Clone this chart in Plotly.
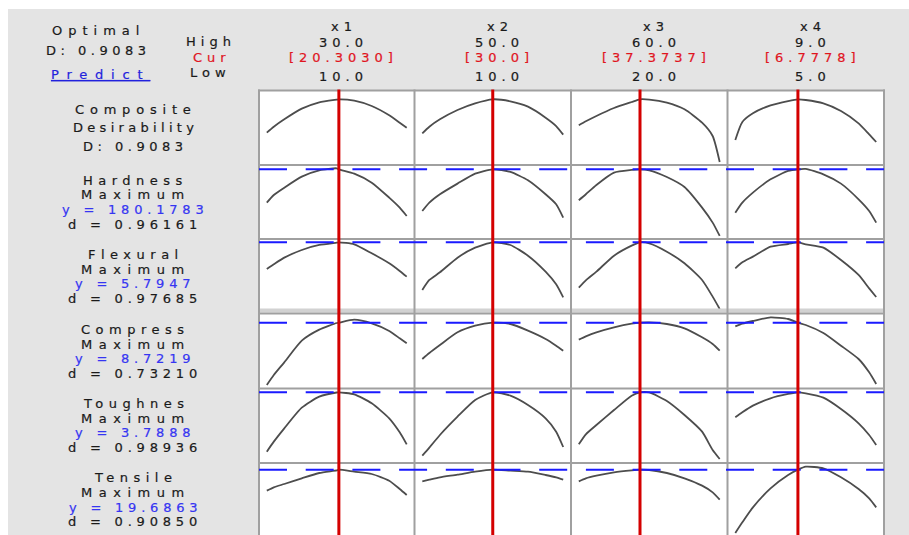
import plotly.graph_objects as go

# ---------------- factor settings ----------------
factors = ["x1", "x2", "x3", "x4"]
high_text = ["30.0", "50.0", "60.0", "9.0"]
cur_text = ["[20.3030]", "[30.0]", "[37.3737]", "[6.7778]"]
low_text = ["10.0", "10.0", "20.0", "5.0"]
x_low = [10, 10, 20, 5]
x_high = [30, 50, 60, 9]
x_cur = [20.3030, 30.0, 37.3737, 6.7778]

# factor values at which each response trace is evaluated
x1_grid = [10, 11, 12.5, 15, 17.5, 20, 20.303, 22.5, 25, 27.5, 29, 30]
x2_grid = [10, 12, 15, 20, 25, 30, 35, 40, 45, 48, 50]
x3_grid = [20, 22, 25, 30, 35, 37.3737, 40, 45, 50, 55, 58, 60]
x4_grid = [5, 5.2, 5.5, 6, 6.5, 6.7778, 7, 7.5, 8, 8.5, 8.8, 9]

# ---------------- responses ----------------
responses = ["Hardness", "Flexural", "Compress", "Toughnes", "Tensile"]
goals = ["Maximum", "Maximum", "Maximum", "Maximum", "Maximum"]
y_pred = [180.1783, 5.7947, 8.7219, 3.7888, 19.6863]
y_pred_text = ["180.1783", "5.7947", "8.7219", "3.7888", "19.6863"]
d_text = ["0.96161", "0.97685", "0.73210", "0.98936", "0.90850"]
composite_D = 0.9083

composite_x1 = [0.447, 0.530, 0.632, 0.779, 0.867, 0.904, 0.9083, 0.890, 0.816, 0.687, 0.585, 0.516]
composite_x2 = [0.438, 0.530, 0.632, 0.761, 0.853, 0.9083, 0.881, 0.807, 0.655, 0.539, 0.420]
composite_x3 = [0.549, 0.604, 0.678, 0.788, 0.871, 0.9083, 0.904, 0.862, 0.770, 0.585, 0.401, 0.041]
composite_x4 = [0.346, 0.595, 0.715, 0.825, 0.885, 0.9083, 0.899, 0.853, 0.747, 0.576, 0.424, 0.318]

hardness_x1 = [160.2, 164.8, 169.2, 175.8, 179.6, 180.8, 180.1783, 177.6, 172.2, 163.2, 157.2, 152.2]
hardness_x2 = [155.2, 160.2, 165.2, 171.6, 177.6, 180.1783, 178.6, 173.6, 165.2, 159.2, 151.2]
hardness_x3 = [161.6, 165.2, 170.8, 178.2, 179.8, 180.1783, 179.6, 175.6, 169.6, 157.2, 148.2, 140.2]
hardness_x4 = [154.2, 160.2, 166.2, 174.2, 179.2, 180.1783, 180.4, 177.2, 171.6, 162.2, 155.2, 148.2]

flexural_x1 = [4.995, 5.135, 5.335, 5.565, 5.715, 5.785, 5.7947, 5.735, 5.465, 5.165, 4.935, 4.765]
flexural_x2 = [4.365, 4.665, 4.895, 5.335, 5.635, 5.7947, 5.715, 5.395, 4.915, 4.535, 4.145]
flexural_x3 = [4.435, 4.655, 4.915, 5.395, 5.695, 5.7947, 5.765, 5.515, 5.165, 4.665, 4.165, 3.795]
flexural_x4 = [5.015, 5.195, 5.365, 5.665, 5.745, 5.7947, 5.735, 5.635, 5.265, 4.815, 4.415, 4.155]

compress_x1 = [4.982, 5.582, 6.342, 7.642, 8.302, 8.702, 8.7219, 8.902, 8.682, 8.222, 7.782, 7.482]
compress_x2 = [6.542, 6.902, 7.382, 8.142, 8.542, 8.7219, 8.642, 8.242, 7.742, 7.342, 7.042]
compress_x3 = [7.702, 7.902, 8.142, 8.442, 8.662, 8.7219, 8.742, 8.642, 8.382, 7.842, 7.442, 7.042]
compress_x4 = [8.502, 8.662, 8.822, 9.042, 8.942, 8.7219, 8.582, 8.102, 7.342, 6.542, 5.742, 5.042]

toughness_x1 = [2.009, 2.309, 2.709, 3.329, 3.659, 3.784, 3.7888, 3.729, 3.459, 3.009, 2.589, 2.229]
toughness_x2 = [1.889, 2.129, 2.509, 3.059, 3.559, 3.7888, 3.689, 3.409, 3.009, 2.609, 2.149]
toughness_x3 = [2.229, 2.529, 2.809, 3.259, 3.689, 3.7888, 3.784, 3.529, 3.109, 2.609, 2.059, 1.789]
toughness_x4 = [3.039, 3.189, 3.389, 3.609, 3.739, 3.7888, 3.759, 3.629, 3.289, 2.859, 2.509, 2.209]

tensile_x1 = [16.536, 17.036, 17.536, 18.386, 19.186, 19.586, 19.6863, 19.386, 19.036, 18.036, 16.786, 15.886]
tensile_x2 = [17.936, 18.186, 18.536, 18.936, 19.386, 19.6863, 19.536, 19.386, 18.886, 18.536, 18.186]
tensile_x3 = [17.936, 18.386, 18.786, 19.286, 19.586, 19.6863, 19.636, 19.186, 18.386, 17.286, 16.286, 15.186]
tensile_x4 = [10.186, 11.786, 14.036, 16.886, 18.886, 19.6863, 20.136, 19.886, 18.536, 16.786, 15.386, 14.036]

grids = [x1_grid, x2_grid, x3_grid, x4_grid]
curves = [
    [composite_x1, composite_x2, composite_x3, composite_x4],
    [hardness_x1, hardness_x2, hardness_x3, hardness_x4],
    [flexural_x1, flexural_x2, flexural_x3, flexural_x4],
    [compress_x1, compress_x2, compress_x3, compress_x4],
    [toughness_x1, toughness_x2, toughness_x3, toughness_x4],
    [tensile_x1, tensile_x2, tensile_x3, tensile_x4],
]

# ---------------- layout geometry (pixels) ----------------
W, H = 909, 535
col_edges = [259, 414.5, 571, 727.5, 884]
row_edges = [90.5, 165, 239, 313.5, 388.5, 463, 535]
y_ranges = [
    [0.0, 1.0303],
    [138.3783, 182.7783],
    [3.6597, 5.8947],
    [4.7719, 9.2719],
    [1.6688, 3.9038],
    [9.8863, 20.6863],
]
pad_px = 7.8

PANEL = "#e4e4e4"
BORDER = "#a0a0a0"
CURVE = "#4d4d4d"
RED = "#d40000"
BLUE = "#1a1aff"
TXT = "#1a1a1a"
TXT_RED = "#e0141e"
TXT_BLUE = "#3535f2"
TXT_LINK = "#2222dd"
FONT = "DejaVu Sans"
FS = 13


def px_x(v):
    return v / W


def px_y(v):
    return 1 - v / H


def suffix(idx):
    return "" if idx == 1 else str(idx)


fig = go.Figure()
layout = {}

for r in range(6):
    for c in range(4):
        idx = r * 4 + c + 1
        s = suffix(idx)
        L, R = col_edges[c], col_edges[c + 1]
        upp = (x_high[c] - x_low[c]) / (R - L - 2 * pad_px)
        layout["xaxis" + s] = dict(
            domain=[px_x(L), px_x(R)],
            range=[x_low[c] - pad_px * upp, x_high[c] + pad_px * upp],
            visible=False, fixedrange=True, anchor="y" + s,
        )
        layout["yaxis" + s] = dict(
            domain=[px_y(row_edges[r + 1]), px_y(row_edges[r])],
            range=y_ranges[r],
            visible=False, fixedrange=True, anchor="x" + s,
        )
        fig.add_trace(go.Scatter(
            x=grids[c], y=curves[r][c], mode="lines",
            line=dict(color=CURVE, width=1.8, shape="spline", smoothing=0.6),
            xaxis="x" + s, yaxis="y" + s,
            hoverinfo="skip", showlegend=False,
        ))

shapes = []
# white page margin around the panel
shapes.append(dict(type="rect", xref="paper", yref="paper", layer="below",
                   x0=0, x1=1, y0=px_y(9), y1=1, fillcolor="white", line=dict(width=0)))
shapes.append(dict(type="rect", xref="paper", yref="paper", layer="below",
                   x0=0, x1=px_x(8), y0=0, y1=1, fillcolor="white", line=dict(width=0)))
# light strip between the flexural and compress rows
shapes.append(dict(type="rect", xref="paper", yref="paper", layer="above",
                   x0=px_x(col_edges[0]), x1=px_x(col_edges[-1]),
                   y0=px_y(312.5), y1=px_y(308.5), fillcolor="#d2d2d2", line=dict(width=0)))
# cell borders
for xe in col_edges:
    shapes.append(dict(type="line", xref="paper", yref="paper", layer="above",
                       x0=px_x(xe), x1=px_x(xe), y0=0, y1=px_y(row_edges[0] - 1),
                       line=dict(color=BORDER, width=2)))
for ye in row_edges[:-1]:
    shapes.append(dict(type="line", xref="paper", yref="paper", layer="above",
                       x0=px_x(col_edges[0] - 1), x1=px_x(col_edges[-1] + 1),
                       y0=px_y(ye), y1=px_y(ye),
                       line=dict(color=BORDER, width=2)))
# current response values (dashed blue)
for r in range(1, 6):
    s = suffix(r * 4 + 1)
    shapes.append(dict(type="line", xref="paper", yref="y" + s, layer="above",
                       x0=px_x(col_edges[0]), x1=px_x(col_edges[-1]),
                       y0=y_pred[r - 1], y1=y_pred[r - 1],
                       line=dict(color=BLUE, width=2, dash="28px,18.7px")))
# current factor settings (red)
for c in range(4):
    s = suffix(c + 1)
    shapes.append(dict(type="line", xref="x" + s, yref="paper", layer="above",
                       x0=x_cur[c], x1=x_cur[c], y0=0, y1=px_y(row_edges[0] - 1),
                       line=dict(color=RED, width=3)))


def spaced(t, ls, color, extra=""):
    style = f"letter-spacing:{ls}px;stroke:{color};stroke-width:0.2px{extra}"
    return f'<span style="{style}">{t}</span>'


annotations = []


def label(text, x, y, color=TXT, ls=5, extra=""):
    annotations.append(dict(
        text=spaced(text, ls, color, extra), x=px_x(x + ls / 2), y=px_y(y),
        xref="paper", yref="paper", xanchor="center", yanchor="middle",
        showarrow=False, font=dict(family=FONT, size=FS, color=color),
    ))


# top-left block
label("Optimal", 95, 30.5, ls=6)
label(f"D: {composite_D:.4f}", 96, 50.5, ls=4.5)
label("Predict", 97, 74, color=TXT_LINK, ls=7.8, extra=";text-decoration:underline")
label("High", 208, 41)
label("Cur", 209, 57.5, color=TXT_RED)
label("Low", 208, 73)

# factor headers
for c in range(4):
    cx = (col_edges[c] + col_edges[c + 1]) / 2 + 4.5
    label(factors[c], cx, 26.2)
    label(high_text[c], cx, 42.8)
    label(cur_text[c], cx, 57.8, color=TXT_RED)
    label(low_text[c], cx, 76.2)

# composite desirability
label("Composite", 133, 109.5, ls=5.8)
label("Desirability", 133, 127.5, ls=4.3)
label(f"D: {composite_D:.4f}", 133, 146.8, ls=4.5)

# response blocks
block_tops = [180.2, 254.5, 329.5, 403.5, 477.8]
for i in range(5):
    y0 = block_tops[i]
    label(responses[i], 133, y0, ls=5.5)
    label(goals[i], 133, y0 + 14.5, ls=6.5)
    label(f"y = {y_pred_text[i]}", 133, y0 + 29.2, color=TXT_BLUE, ls=4.8)
    label(f"d = {d_text[i]}", 133, y0 + 44, ls=4.8)

fig.update_layout(
    width=W, height=H,
    margin=dict(l=0, r=0, t=0, b=0, pad=0),
    paper_bgcolor=PANEL, plot_bgcolor="white",
    shapes=shapes, annotations=annotations,
    showlegend=False,
    **layout,
)

fig.write_html("out.html")
